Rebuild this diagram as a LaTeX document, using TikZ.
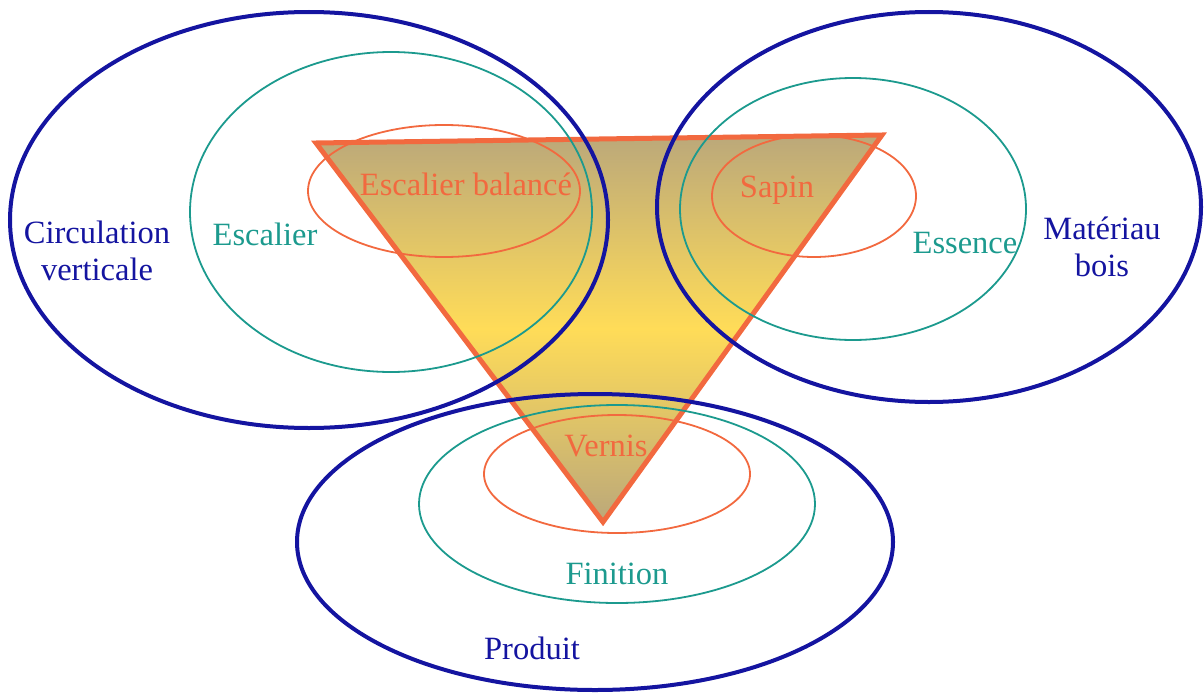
\documentclass[tikz,border=0pt]{standalone}
\usepackage{fontspec}
\setmainfont{Liberation Serif}
\newfontfamily\lserif{Liberation Serif}
\definecolor{navyc}{HTML}{1414A0}
\definecolor{tealc}{HTML}{1C9A8E}
\definecolor{orangec}{HTML}{F2693F}
\definecolor{khakic}{HTML}{BBA87A}
\definecolor{yellowc}{HTML}{FFDC58}
\tikzset{
  outer/.style={draw=navyc, line width=4pt},
  middle/.style={draw=tealc, line width=1.8pt},
  inner/.style={draw=orangec, line width=1.8pt},
  lbl/.style={font=\lserif\fontsize{32.5}{37}\selectfont, align=center, inner sep=0pt},
}
\begin{document}
\begin{tikzpicture}[x=1pt,y=-1pt]
\useasboundingbox (0,0) rectangle (1204,693);
% triangle
\coordinate (tl) at (316,143);
\coordinate (tr) at (882,135);
\coordinate (tb) at (603,522);
\draw[draw=orangec, line width=5pt, line join=miter, top color=khakic, bottom color=khakic, middle color=yellowc]
  (tl) -- (tr) -- (tb) -- cycle;
% left group
\draw[outer] (309,220) ellipse [x radius=299pt, y radius=208pt];
\draw[middle] (391,212) ellipse [x radius=201pt, y radius=160pt];
\draw[inner] (444,191) ellipse [x radius=136pt, y radius=66pt];
% right group
\draw[outer] (929,207) ellipse [x radius=272pt, y radius=195pt];
\draw[middle] (853,209) ellipse [x radius=173pt, y radius=131pt];
\draw[inner] (814,196) ellipse [x radius=102pt, y radius=61pt];
% bottom group
\draw[outer] (595,542) ellipse [x radius=298pt, y radius=148pt];
\draw[middle] (617,504) ellipse [x radius=198pt, y radius=99pt];
\draw[inner] (617,474) ellipse [x radius=133pt, y radius=59pt];
% labels
\node[lbl, text=navyc] (circ) at (97,251) {Circulation\\verticale};
\node[lbl, text=tealc] (esc) at (265,234) {Escalier};
\node[lbl, text=orangec] (escb) at (466,184) {Escalier balancé};
\node[lbl, text=orangec] (sapin) at (777,190) {Sapin};
\node[lbl, text=tealc] (ess) at (965,243) {Essence};
\node[lbl, text=navyc] (mat) at (1102,247) {Matériau\\bois};
\node[lbl, text=orangec] (vern) at (606,446) {Vernis};
\node[lbl, text=tealc] (fin) at (617,574) {Finition};
\node[lbl, text=navyc] (prod) at (532,648) {Produit};
\end{tikzpicture}
\end{document}
